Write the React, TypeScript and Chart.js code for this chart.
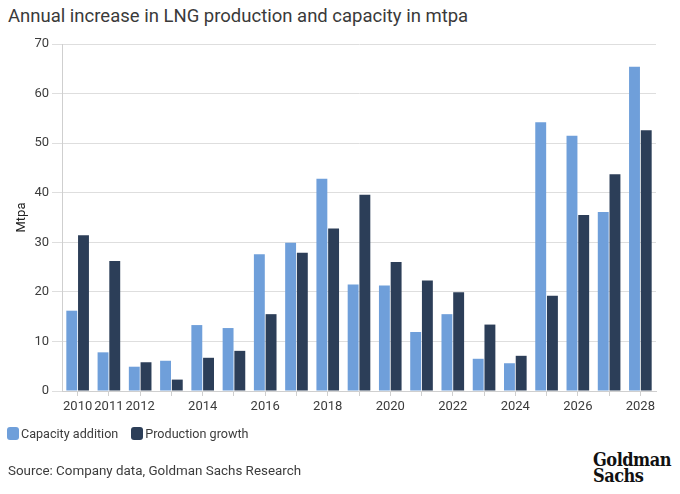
import React, { useEffect, useRef } from "react";
import { Chart, registerables } from "chart.js";

Chart.register(...registerables);

const years = [
  "2010", "2011", "2012", "2013", "2014", "2015", "2016", "2017", "2018", "2019",
  "2020", "2021", "2022", "2023", "2024", "2025", "2026", "2027", "2028",
];
const tickLabels = [
  "2010", "2011", "2012", "", "2014", "", "2016", "", "2018", "",
  "2020", "", "2022", "", "2024", "", "2026", "", "2028",
];
const capacityAddition = [
  16.2, 7.8, 4.9, 6.1, 13.3, 12.7, 27.6, 29.9, 42.8, 21.5,
  21.3, 11.9, 15.5, 6.5, 5.6, 54.2, 51.5, 36.1, 65.4,
];
const productionGrowth = [
  31.4, 26.2, 5.8, 2.3, 6.7, 8.1, 15.5, 27.9, 32.8, 39.6,
  26.0, 22.3, 19.9, 13.4, 7.1, 19.2, 35.5, 43.7, 52.6,
];
const yTicks = [0, 10, 20, 30, 40, 50, 60, 70];

const CAP_COLOR = "#6f9fda";
const PROD_COLOR = "#2c3e58";
const FONT = "Roboto, 'Noto Sans', sans-serif";

export default function App() {
  const ref = useRef<HTMLCanvasElement | null>(null);

  useEffect(() => {
    if (!ref.current) return;
    const chart = new Chart(ref.current, {
      type: "bar",
      data: {
        labels: years,
        datasets: [
          {
            label: "Capacity addition",
            data: capacityAddition,
            backgroundColor: CAP_COLOR,
            barPercentage: 0.93,
            categoryPercentage: 0.75,
          },
          {
            label: "Production growth",
            data: productionGrowth,
            backgroundColor: PROD_COLOR,
            barPercentage: 0.93,
            categoryPercentage: 0.75,
          },
        ],
      },
      options: {
        animation: false,
        responsive: false,
        maintainAspectRatio: false,
        layout: { padding: { top: 44, right: 24, left: 0, bottom: 0 } },
        plugins: {
          legend: { display: false },
          tooltip: { enabled: false },
          title: { display: false },
        },
        scales: {
          x: {
            offset: true,
            grid: {
              display: true,
              drawOnChartArea: false,
              drawTicks: true,
              offset: false,
              tickLength: 5,
              color: "#cfcfcf",
            },
            border: { display: true, color: "#cfcfcf" },
            ticks: {
              autoSkip: false,
              maxRotation: 0,
              padding: 3,
              color: "#3c3c3c",
              font: { family: FONT, size: 13 },
              callback: (_v: any, i: number) => tickLabels[i],
            },
            afterFit: (s: any) => {
              s.height = 39;
            },
          },
          y: {
            min: 0,
            max: 70,
            afterBuildTicks: (s: any) => {
              s.ticks = yTicks.map((v) => ({ value: v }));
            },
            grid: {
              color: "#dedede",
              tickLength: 10,
            },
            border: { display: true, color: "#cfcfcf" },
            ticks: {
              padding: 3,
              color: "#3c3c3c",
              font: { family: FONT, size: 13 },
            },
            title: {
              display: true,
              text: "Mtpa",
              color: "#222",
              font: { family: FONT, size: 13 },
              padding: { top: 14, bottom: 4 },
            },
            afterFit: (s: any) => {
              s.width = 62;
            },
          },
        },
      },
    });
    return () => chart.destroy();
  }, []);

  const legendItem = (color: string, text: string) => (
    <div style={{ display: "flex", alignItems: "center", marginRight: 13 }}>
      <span
        style={{
          display: "inline-block",
          width: 12,
          height: 13,
          borderRadius: 3,
          background: color,
          marginRight: 2,
        }}
      />
      <span>{text}</span>
    </div>
  );

  return (
    <div
      style={{
        position: "absolute",
        left: 0,
        top: 0,
        width: 680,
        height: 494,
        background: "#fff",
        fontFamily: FONT,
        overflow: "hidden",
      }}
    >
      <div
        style={{
          position: "absolute",
          left: 8,
          top: 5,
          fontSize: 18.5,
          color: "#3a3a3a",
          whiteSpace: "nowrap",
        }}
      >
        Annual increase in LNG production and capacity in mtpa
      </div>
      <canvas
        ref={ref}
        width={680}
        height={430}
        style={{ position: "absolute", left: 0, top: 0, width: 680, height: 430 }}
      />
      <div
        style={{
          position: "absolute",
          left: 7,
          top: 426,
          display: "flex",
          fontSize: 12.6,
          color: "#3c3c3c",
        }}
      >
        {legendItem(CAP_COLOR, "Capacity addition")}
        {legendItem(PROD_COLOR, "Production growth")}
      </div>
      <div
        style={{
          position: "absolute",
          left: 8,
          top: 463,
          fontSize: 13.4,
          color: "#3c3c3c",
          whiteSpace: "nowrap",
        }}
      >
        Source: Company data, Goldman Sachs Research
      </div>
      <div
        style={{
          position: "absolute",
          left: 593,
          top: 452,
          fontFamily: "'DejaVu Serif Condensed', 'DejaVu Serif', serif",
          fontWeight: "bold",
          fontSize: 18,
          lineHeight: "16px",
          color: "#111",
          whiteSpace: "nowrap",
          letterSpacing: -0.5,
        }}
      >
        Goldman
        <br />
        Sachs
      </div>
    </div>
  );
}
